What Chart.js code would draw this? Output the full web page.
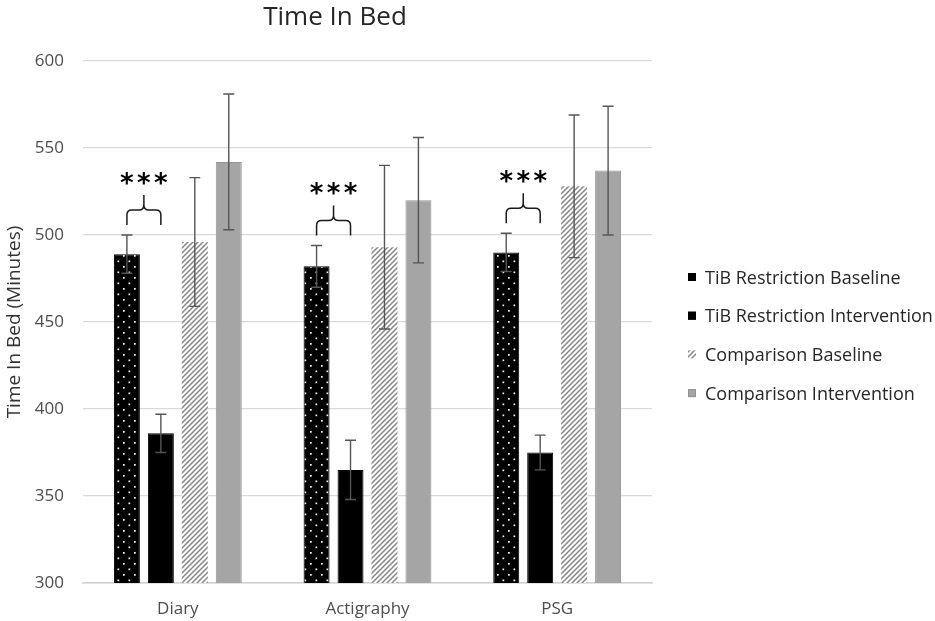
<!DOCTYPE html>
<html>
<head>
<meta charset="utf-8">
<script src="https://cdn.jsdelivr.net/npm/chart.js@4.4.1/dist/chart.umd.min.js"></script>
<style>
html,body{margin:0;padding:0;background:#fff;}
#wrap{width:935px;height:621px;position:relative;}
</style>
</head>
<body>
<div id="wrap"><canvas id="c"></canvas></div>
<script>
// ---- data ----
const chartTitle = 'Time In Bed';
const yAxisTitle = 'Time In Bed (Minutes)';
const categories = ['Diary', 'Actigraphy', 'PSG'];
const seriesNames = ['TiB Restriction Baseline', 'TiB Restriction Intervention', 'Comparison Baseline', 'Comparison Intervention'];
const tibBaseline = [489, 482, 490];
const tibBaselineErr = [11, 12, 11];
const tibIntervention = [386, 365, 375];
const tibInterventionErr = [11, 17, 10];
const compBaseline = [496, 493, 528];
const compBaselineErr = [37, 47, 41];
const compIntervention = [542, 520, 537];
const compInterventionErr = [39, 36, 37];
const significance = ['***', '***', '***'];
const yMin = 300, yMax = 600, yStep = 50;

const FONT = "'Open Sans', 'Noto Sans', sans-serif";

function dotPattern() {
  const c = document.createElement('canvas');
  c.width = 11; c.height = 11;
  const x = c.getContext('2d');
  x.fillStyle = '#000'; x.fillRect(0, 0, 11, 11);
  x.fillStyle = '#fff';
  x.fillRect(2, 2, 1.7, 1.7);
  x.fillRect(7.5, 7.5, 1.7, 1.7);
  return x.createPattern(c, 'repeat');
}
function hatchPattern() {
  const s = 5;
  const c = document.createElement('canvas');
  c.width = s; c.height = s;
  const x = c.getContext('2d');
  x.fillStyle = '#fff'; x.fillRect(0, 0, s, s);
  x.strokeStyle = '#858585'; x.lineWidth = 1.5;
  x.beginPath();
  x.moveTo(0, s); x.lineTo(s, 0);
  x.moveTo(-1, 1); x.lineTo(1, -1);
  x.moveTo(s - 1, s + 1); x.lineTo(s + 1, s - 1);
  x.stroke();
  return x.createPattern(c, 'repeat');
}

const dots = dotPattern();
const hatch = hatchPattern();

const datasets = [
  { label: seriesNames[0], data: tibBaseline, errors: tibBaselineErr, backgroundColor: dots, borderColor: '#000', borderWidth: 1 },
  { label: seriesNames[1], data: tibIntervention, errors: tibInterventionErr, backgroundColor: '#000', borderColor: '#000', borderWidth: 1 },
  { label: seriesNames[2], data: compBaseline, errors: compBaselineErr, backgroundColor: hatch, borderWidth: 0 },
  { label: seriesNames[3], data: compIntervention, errors: compInterventionErr, backgroundColor: '#a5a5a5', borderColor: '#939393', borderWidth: 1 }
];

const errorBarPlugin = {
  id: 'errorBars',
  afterDatasetsDraw(chart) {
    const ctx = chart.ctx, y = chart.scales.y;
    ctx.save();
    ctx.strokeStyle = '#555555';
    ctx.lineWidth = 1.4;
    chart.data.datasets.forEach((ds, i) => {
      const meta = chart.getDatasetMeta(i);
      meta.data.forEach((el, j) => {
        const v = ds.data[j], e = ds.errors[j];
        const yt = y.getPixelForValue(v + e), yb = y.getPixelForValue(v - e);
        const x = el.x;
        ctx.beginPath();
        ctx.moveTo(x, yt); ctx.lineTo(x, yb);
        ctx.moveTo(x - 5.5, yt); ctx.lineTo(x + 5.5, yt);
        ctx.moveTo(x - 5.5, yb); ctx.lineTo(x + 5.5, yb);
        ctx.stroke();
      });
    });
    ctx.restore();
  }
};

const annotationPlugin = {
  id: 'sigBraces',
  afterDatasetsDraw(chart) {
    const ctx = chart.ctx, y = chart.scales.y;
    const m0 = chart.getDatasetMeta(0), m1 = chart.getDatasetMeta(1);
    ctx.save();
    ctx.strokeStyle = '#1a1a1a';
    ctx.lineWidth = 1.5;
    categories.forEach((c, j) => {
      const x0 = m0.data[j].x, x1 = m1.data[j].x, xc = (x0 + x1) / 2;
      const top = y.getPixelForValue(tibBaseline[j] + tibBaselineErr[j]);
      const yb = top - 10, ym = yb - 15, yt = yb - 30;
      const r = 5;
      ctx.beginPath();
      ctx.moveTo(x0, yb); ctx.lineTo(x0, ym + r);
      ctx.quadraticCurveTo(x0, ym, x0 + r, ym);
      ctx.lineTo(xc - r, ym);
      ctx.quadraticCurveTo(xc, ym, xc, ym - r);
      ctx.lineTo(xc, yt);
      ctx.moveTo(x1, yb); ctx.lineTo(x1, ym + r);
      ctx.quadraticCurveTo(x1, ym, x1 - r, ym);
      ctx.lineTo(xc + r, ym);
      ctx.quadraticCurveTo(xc, ym, xc, ym - r);
      ctx.stroke();
      // stars
      ctx.fillStyle = '#000';
      ctx.font = "bold 26px 'DejaVu Sans', sans-serif";
      ctx.textAlign = 'center';
      ctx.textBaseline = 'alphabetic';
      const stars = significance[j].split('');
      const sp = 17;
      stars.forEach((s, k) => {
        ctx.fillText(s, xc + (k - (stars.length - 1) / 2) * sp, yt - 3);
      });
    });
    ctx.restore();
  }
};

const titleLegendPlugin = {
  id: 'titleLegend',
  afterDraw(chart) {
    const ctx = chart.ctx;
    ctx.save();
    ctx.fillStyle = '#262626';
    ctx.font = '26px ' + FONT;
    ctx.textAlign = 'center';
    ctx.textBaseline = 'alphabetic';
    ctx.fillText(chartTitle, 335, 25);
    // legend
    ctx.font = '18px ' + FONT;
    ctx.textAlign = 'left';
    const lx = 688, ly0 = 277, dy = 38.7, bs = 8;
    chart.data.datasets.forEach((ds, i) => {
      const cy = ly0 + i * dy;
      ctx.fillStyle = ds.backgroundColor;
      ctx.fillRect(lx, cy - bs / 2, bs, bs);
      if (ds.borderWidth) {
        ctx.strokeStyle = ds.borderColor;
        ctx.lineWidth = 1;
        ctx.strokeRect(lx + 0.5, cy - bs / 2 + 0.5, bs - 1, bs - 1);
      }
      ctx.fillStyle = '#262626';
      ctx.fillText(ds.label, 705, cy + 6.5);
    });
    ctx.restore();
  }
};

new Chart(document.getElementById('c'), {
  type: 'bar',
  data: { labels: categories, datasets },
  options: {
    responsive: true,
    maintainAspectRatio: false,
    animation: false,
    devicePixelRatio: 1,
    layout: { padding: { top: 61, right: 283, left: 0, bottom: 0 } },
    datasets: { bar: { categoryPercentage: 0.716, barPercentage: 0.765 } },
    plugins: { legend: { display: false }, title: { display: false }, tooltip: { enabled: false } },
    scales: {
      x: {
        grid: { display: true, drawOnChartArea: false, drawTicks: false },
        border: { display: true, color: '#d0d0d0', width: 1.5 },
        ticks: { color: '#4d4d4d', font: { family: FONT, size: 17 }, padding: 16 },
        afterFit(s) { s.height = 38; }
      },
      y: {
        min: yMin, max: yMax,
        grid: { color: '#d9d9d9', lineWidth: 1.3, drawTicks: false },
        border: { display: false },
        ticks: { stepSize: yStep, color: '#4d4d4d', font: { family: FONT, size: 17 }, padding: 19 },
        title: { display: true, text: yAxisTitle, color: '#333333', font: { family: FONT, size: 19 }, padding: { top: 3, bottom: 0 } },
        afterFit(s) { s.width = 83; }
      }
    }
  },
  plugins: [errorBarPlugin, annotationPlugin, titleLegendPlugin]
});
</script>
</body>
</html>
